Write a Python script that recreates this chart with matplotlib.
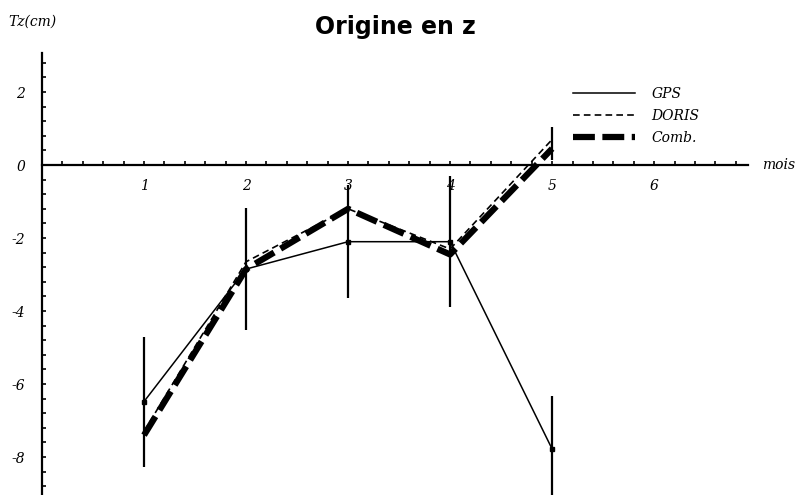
import matplotlib
matplotlib.use("Agg")
import matplotlib.pyplot as plt
from matplotlib.ticker import MultipleLocator, FixedLocator
from matplotlib.lines import Line2D

months = [1, 2, 3, 4, 5]
gps = [-6.48, -2.85, -2.1, -2.1, -7.78]
gps_err = [1.78, 1.67, 1.55, 1.8, 1.46]
doris = [-7.3, -2.65, -1.2, -2.3, 0.7]
comb = [-7.4, -2.85, -1.2, -2.45, 0.45]
extra_bar_x = [5]
extra_bar_lo = [0.15]
extra_bar_hi = [1.05]
yticks = [-8, -6, -4, -2, 0, 2]
xticks = [1, 2, 3, 4, 5, 6]
labels = ['GPS', 'DORIS', 'Comb.']

fig = plt.figure(figsize=(8.08, 4.95), dpi=100)
ax = fig.add_axes([42/808, 0.0, (748-42)/808, (495-53)/495])
ax.set_xlim(0, 6.92)
ax.set_ylim(-9.04, 3.07)

gps_style = dict(color='black', lw=1.1)
doris_style = dict(color='black', lw=1.2, ls=(0, (4, 2.5)))
comb_style = dict(color='black', lw=4.5, ls=(0, (3.5, 1.2)))

ax.errorbar(months, gps, yerr=gps_err, elinewidth=1.6, capsize=0,
            marker='s', ms=3.5, zorder=3, **gps_style)
ax.vlines(extra_bar_x, extra_bar_lo, extra_bar_hi, color='black', lw=1.6)
ax.plot(months, doris, **doris_style)
ax.plot(months, comb, **comb_style)

for s in ['top', 'right']:
    ax.spines[s].set_visible(False)
ax.spines['bottom'].set_position(('data', 0))
ax.spines['left'].set_linewidth(1.6)
ax.spines['bottom'].set_linewidth(1.6)

ax.xaxis.set_major_locator(FixedLocator(xticks))
ax.xaxis.set_minor_locator(MultipleLocator(0.2))
ax.yaxis.set_major_locator(FixedLocator(yticks))
ax.yaxis.set_minor_locator(MultipleLocator(0.4))
ax.tick_params(axis='both', which='both', direction='in', length=3, width=1.2)
ax.tick_params(axis='x', which='major', pad=10)
ax.tick_params(axis='y', which='major', pad=12)

tfont = dict(family='DejaVu Serif', style='italic', size=10)
ax.set_xticklabels([str(v) for v in xticks], fontdict=tfont)
ax.set_yticklabels([str(v) for v in yticks], fontdict=tfont)

fig.text(395/808, 1 - 27/495, 'Origine en z', ha='center', va='center',
         fontsize=17, fontweight='bold', family='DejaVu Sans')
fig.text(8/808, 1 - 22/495, 'Tz(cm)', ha='left', va='center',
         family='DejaVu Serif', style='italic', fontsize=10)
fig.text(762/808, 1 - 165/495, 'mois', ha='left', va='center',
         family='DejaVu Serif', style='italic', fontsize=10)

handles = [Line2D([], [], **gps_style), Line2D([], [], **doris_style),
           Line2D([], [], **comb_style)]
ax.legend(handles, labels, loc='upper left', bbox_to_anchor=(560/808, 1 - 74/495),
          bbox_transform=fig.transFigure, frameon=False,
          prop=dict(family='DejaVu Serif', style='italic', size=10),
          handlelength=4.5, handletextpad=1.2, labelspacing=0.6)

fig.savefig('out.png', dpi=100)
